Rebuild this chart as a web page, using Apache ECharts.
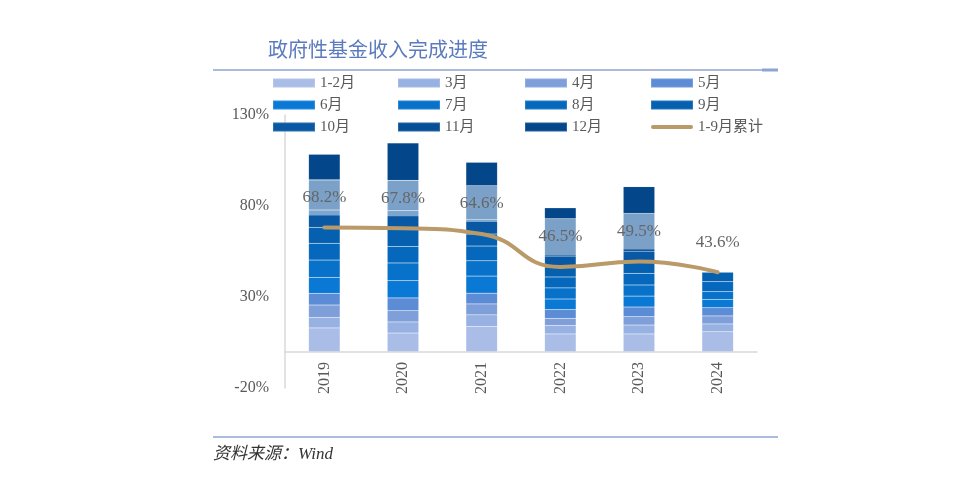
<!DOCTYPE html>
<html>
<head>
<meta charset="utf-8">
<script src="https://cdn.jsdelivr.net/npm/echarts@6/dist/echarts.min.js"></script>
<style>
html,body{margin:0;padding:0;background:#fff;}
#chart{width:960px;height:488px;}
</style>
</head>
<body>
<div id="chart"></div>
<script>
// ---- data (percent of annual budget, monthly increments) ----
const years = ['2019', '2020', '2021', '2022', '2023', '2024'];
const monthNames = ['1-2月', '3月', '4月', '5月', '6月', '7月', '8月', '9月', '10月', '11月', '12月'];
const m01_02 = [13.0, 10.2, 13.8, 9.7, 9.7, 10.9];
const m03 = [5.8, 6.1, 6.4, 4.7, 4.9, 4.3];
const m04 = [6.8, 6.2, 6.0, 3.9, 4.6, 4.4];
const m05 = [6.4, 7.0, 5.9, 4.8, 5.3, 4.5];
const m06 = [8.8, 9.5, 9.4, 5.8, 6.0, 4.6];
const m07 = [9.5, 9.7, 8.4, 6.1, 6.1, 4.2];
const m08 = [9.2, 9.1, 8.1, 6.0, 6.4, 5.5];
const m09 = [8.7, 10.0, 6.6, 5.5, 6.5, 5.2];
const m10 = [9.6, 9.6, 7.9, 6.0, 5.7, null];
const m11 = [16.5, 16.7, 18.7, 20.5, 20.8, null];
const m12 = [14.1, 20.5, 12.8, 6.0, 14.6, null];
const cum1to9 = [68.2, 67.8, 64.6, 46.5, 49.5, 43.6];
const lineName = '1-9月累计';
const yTicks = { min: -20, max: 130, interval: 50 };

// ---- styles ----
const monthColors = ['#A9BDE7', '#97B1E2', '#7E9FDA', '#5B8CD5', '#0A79D5', '#0871C9', '#0668BC', '#0560B0', '#0858A4', '#064F97', '#03468A'];
const lineColor = '#BA9A68';
const serif = "'Liberation Serif','Noto Sans CJK SC',serif";
const grayText = '#595959';

const monthData = [m01_02, m03, m04, m05, m06, m07, m08, m09, m10, m11, m12];

const series = monthNames.map((name, i) => ({
  name: name,
  type: 'bar',
  stack: 'total',
  barWidth: '40%',
  data: monthData[i],
  itemStyle: { color: monthColors[i], borderColor: 'rgba(255,255,255,0.15)', borderWidth: 0.5 },
  emphasis: { disabled: true },
  z: 2
}));

series.push({
  name: lineName,
  type: 'line',
  data: cum1to9,
  smooth: 0.5,
  symbol: 'circle',
  symbolSize: 0.1,
  showSymbol: true,
  lineStyle: { color: lineColor, width: 4, cap: 'round' },
  itemStyle: { color: lineColor },
  label: {
    show: true,
    position: 'top',
    distance: 12,
    formatter: '{c}%',
    color: '#666666',
    fontSize: 17,
    fontFamily: serif,
    lineHeight: 18,
    padding: [9, 3],
    backgroundColor: 'rgba(255,255,255,0.47)'
  },
  emphasis: { disabled: true },
  z: 5
});

const lineIcon = 'path://M2,0 L40,0 Q42,0 42,2 Q42,4 40,4 L2,4 Q0,4 0,2 Q0,0 2,0 Z';
const legendCols = [
  ['1-2月', '6月', '10月'],
  ['3月', '7月', '11月'],
  ['4月', '8月', '12月'],
  ['5月', '9月', lineName]
];
const legendLefts = [272, 397, 524, 650];
const legends = legendCols.map((col, i) => ({
  orient: 'vertical',
  left: legendLefts[i],
  top: 75,
  padding: 0,
  itemWidth: 42,
  itemHeight: 9,
  itemGap: 6,
  selectedMode: false,
  symbolKeepAspect: true,
  icon: 'rect',
  textStyle: { fontSize: 15, lineHeight: 16, color: grayText, fontFamily: serif },
  data: col.map(n => n === lineName ? { name: n, icon: lineIcon, itemStyle: { color: lineColor } } : { name: n, icon: 'rect' })
}));

const chart = echarts.init(document.getElementById('chart'), null, { renderer: 'canvas' });
chart.setOption({
  backgroundColor: '#ffffff',
  animation: false,
  title: {
    text: '政府性基金收入完成进度',
    left: 263,
    top: 34,
    textStyle: { fontSize: 20, fontWeight: 'normal', color: '#5B7BBE', fontFamily: "'Noto Sans CJK SC',sans-serif" }
  },
  legend: legends,
  grid: { left: 285, right: 203, top: 115, bottom: 100, containLabel: false },
  xAxis: {
    type: 'category',
    data: years,
    axisLine: { show: true, onZero: true, lineStyle: { color: '#D9D9D9', width: 1.5 } },
    axisTick: { show: false },
    axisLabel: { rotate: 90, margin: -26, fontSize: 16, color: grayText, fontFamily: serif }
  },
  yAxis: {
    type: 'value',
    min: yTicks.min,
    max: yTicks.max,
    interval: yTicks.interval,
    axisLine: { show: true, lineStyle: { color: '#D9D9D9', width: 1.5 } },
    axisTick: { show: false },
    splitLine: { show: false },
    axisLabel: { formatter: '{value}%', margin: 16, fontSize: 16, color: grayText, fontFamily: serif }
  },
  graphic: [
    { type: 'line', shape: { x1: 213, y1: 70, x2: 778, y2: 70 }, style: { stroke: '#8EA5D3', lineWidth: 1.5 } },
    { type: 'rect', shape: { x: 762, y: 68.5, width: 16, height: 3 }, style: { fill: '#8EA5D3' } },
    { type: 'line', shape: { x1: 213, y1: 437, x2: 778, y2: 437 }, style: { stroke: '#8EA5D3', lineWidth: 1.5 } },
    { type: 'text', left: 213, top: 446, style: { text: '资料来源：Wind', fontSize: 17, fontStyle: 'italic', fill: '#333333', fontFamily: serif } }
  ],
  series: series
});
</script>
</body>
</html>
